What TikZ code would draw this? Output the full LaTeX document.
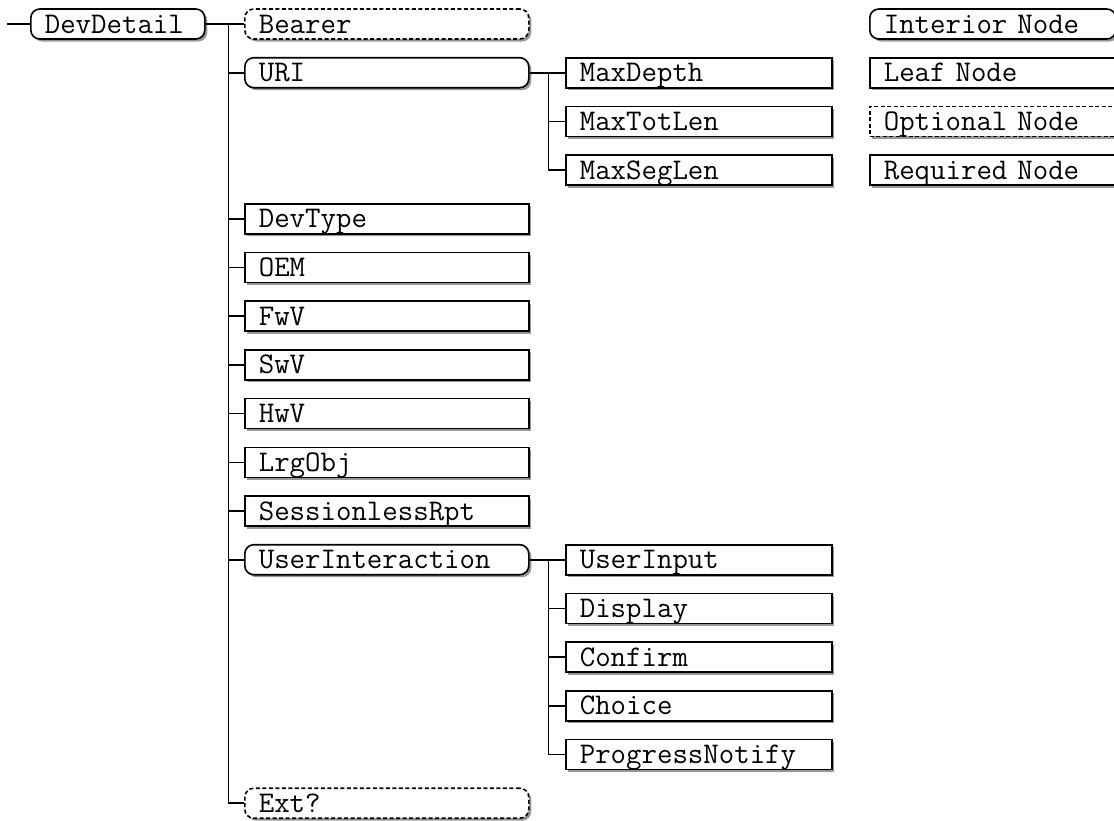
\documentclass[tikz,border=0pt]{standalone}
\usepackage{fontspec}
\usepackage{tikz}
\usetikzlibrary{shadows}
\newcommand\boxfont{\fontsize{30}{32}\selectfont\ttfamily\spaceskip=0.525em plus 0pt minus 0pt\relax}

\begin{document}
\begin{tikzpicture}[x=1pt, y=-1pt,
  box/.style={draw, line width=1.6pt, anchor=west, minimum height=30pt,
    inner xsep=14pt, inner ysep=0pt, align=left,
    text height=22pt, text depth=4pt,
    font=\boxfont,
    fill=white,
    drop shadow={shadow xshift=2.5pt, shadow yshift=-2.5pt, fill=black!45, opacity=0.9}},
  leaf/.style={box, rectangle},
  interior/.style={box, rounded corners=9pt},
  optional/.style={dash pattern=on 4pt off 2.5pt},
  rootw/.style={text width=146pt},
  colA/.style={text width=256pt},
  colB/.style={text width=238pt},
  legw/.style={text width=218pt},
  link/.style={line width=1.6pt}]
\useasboundingbox (0,0) rectangle (1114,820);

% root and first level
\coordinate (stub) at (7,24);
\node[interior, rootw] (devdetail) at (30,24) {DevDetail};
\node[interior, optional, colA] (bearer) at (244,24) {Bearer};
\node[interior, colA] (uri) at (244,72.7) {URI};
\node[leaf, colA] (devtype) at (244,218.8) {DevType};
\node[leaf, colA] (oem) at (244,267.5) {OEM};
\node[leaf, colA] (fwv) at (244,316.2) {FwV};
\node[leaf, colA] (swv) at (244,364.9) {SwV};
\node[leaf, colA] (hwv) at (244,413.6) {HwV};
\node[leaf, colA] (lrgobj) at (244,462.3) {LrgObj};
\node[leaf, colA] (sessrpt) at (244,511) {SessionlessRpt};
\node[interior, colA] (userint) at (244,559.7) {UserInteraction};
\node[interior, optional, colA] (ext) at (244,803.2) {Ext?};

% children of URI
\node[leaf, colB] (maxdepth) at (565,72.7) {MaxDepth};
\node[leaf, colB] (maxtotlen) at (565,121.4) {MaxTotLen};
\node[leaf, colB] (maxseglen) at (565,170.1) {MaxSegLen};

% children of UserInteraction
\node[leaf, colB] (userinput) at (565,559.7) {UserInput};
\node[leaf, colB] (display) at (565,608.4) {Display};
\node[leaf, colB] (confirm) at (565,657.1) {Confirm};
\node[leaf, colB] (choice) at (565,705.8) {Choice};
\node[leaf, colB] (progress) at (565,754.5) {ProgressNotify};

% legend
\node[interior, legw] (leginterior) at (869,24) {Interior Node};
\node[leaf, legw] (legleaf) at (869,72.7) {Leaf Node};
\node[leaf, optional, legw] (legoptional) at (869,121.4) {Optional Node};
\node[leaf, legw] (legrequired) at (869,170.1) {Required Node};

% connectors
\draw[link] (stub) -- (devdetail.west);
\foreach \c in {bearer, uri, devtype, oem, fwv, swv, hwv, lrgobj, sessrpt, userint, ext}
  \draw[link] (devdetail.east) -- ++(23,0) |- (\c.west);
\foreach \c in {maxdepth, maxtotlen, maxseglen}
  \draw[link] (uri.east) -- ++(19,0) |- (\c.west);
\foreach \c in {userinput, display, confirm, choice, progress}
  \draw[link] (userint.east) -- ++(19,0) |- (\c.west);

\end{tikzpicture}
\end{document}
